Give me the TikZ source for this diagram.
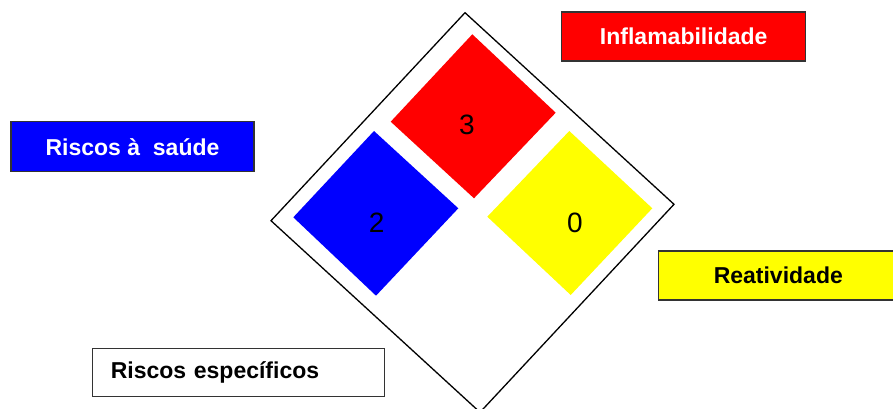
\documentclass[tikz,border=0pt]{standalone}
\usepackage{fontspec}
\setmainfont{Liberation Sans}
\definecolor{hzred}{RGB}{255,0,0}
\definecolor{hzblue}{RGB}{0,0,255}
\definecolor{hzyellow}{RGB}{255,255,0}
\begin{document}
\begin{tikzpicture}[x=1pt,y=-1pt,
  tag/.style={draw=black!80, line width=1.2pt, minimum height=49pt,
    minimum width=244pt, inner sep=0pt,
    font=\fontsize{23}{27}\selectfont\bfseries},
  digit/.style={inner sep=0pt, font=\fontsize{28}{32}\selectfont},
  frame/.style={draw=black, line width=1.3pt, line join=miter}]
\useasboundingbox (0,0) rectangle (893,409);

% outer placard outline
\draw[frame] (465,12.7) -- (674,204.3) -- (480,412.3) -- (271,220.7) -- cycle;

% hazard fields
\fill[hzred]    (472.3,34.3) -- (555.7,112.7) -- (474,198.3)   -- (390.7,121.7) -- cycle;
\fill[hzblue]   (374,131)    -- (458.3,208.3) -- (376,295.7)   -- (293.3,217.3) -- cycle;
\fill[hzyellow] (569.3,131)  -- (652.3,208.3) -- (570.7,295)   -- (487.3,216.7) -- cycle;

% ratings
\node[digit] (flam)  at (467,125)   {3};
\node[digit] (saude) at (376.7,222.7) {2};
\node[digit] (reat)  at (575,222.7) {0};

% legend boxes
\node[tag, fill=hzred, text=white]  (lflam)  at (683.7,36.5)  {Inflamabilidade};
\node[tag, fill=hzblue, text=white, minimum width=243pt, minimum height=50pt]
      (lsaude) at (132.5,146.8) {Riscos à~~saúde};
\node[tag, fill=hzyellow, text=black, minimum width=240pt] (lreat) at (778.3,275.5) {Reatividade};
\node[tag, fill=white, text=black, minimum width=292pt, minimum height=48.4pt,
      text width=255pt, align=left] (lesp) at (238.3,372.5) {Riscos específicos};
\end{tikzpicture}
\end{document}
